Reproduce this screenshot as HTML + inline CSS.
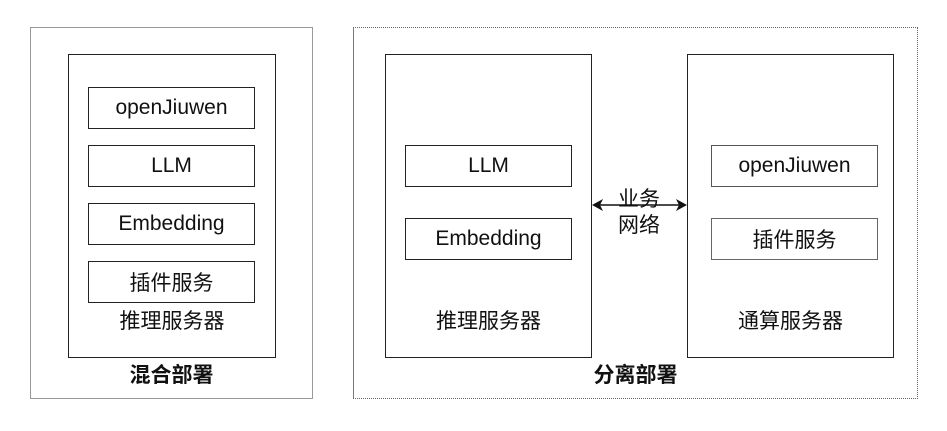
<!DOCTYPE html>
<html><head><meta charset="utf-8"><style>
body{margin:0;width:947px;height:431px;background:#fff;position:relative;overflow:hidden;font-family:"Liberation Sans","Noto Sans CJK SC",sans-serif;color:#111}
.b{position:absolute;box-sizing:border-box}
.s{border:1.5px solid #222;display:flex;align-items:center;justify-content:center;font-size:21px}
.c{font-size:21px}
.t{position:absolute;text-align:center;font-size:21px;line-height:26px}
</style></head><body>
<div class="b" style="left:30px;top:27px;width:283px;height:372px;border:1.5px solid #999"></div>
<div class="b" style="left:68px;top:54px;width:208px;height:304px;border:1.5px solid #222"></div>
<div class="b s" style="left:88px;top:87px;width:167px;height:42px">openJiuwen</div>
<div class="b s" style="left:88px;top:145px;width:167px;height:42px">LLM</div>
<div class="b s" style="left:88px;top:203px;width:167px;height:42px">Embedding</div>
<div class="b s" style="left:88px;top:261px;width:167px;height:42px">插件服务</div>
<div class="t" style="left:68px;width:208px;top:309px">推理服务器</div>
<div class="t" style="left:30px;width:283px;top:363px;font-weight:bold">混合部署</div>

<div class="b" style="left:353px;top:27px;width:565px;height:372px;border:1px dotted #666;border-left:1.5px solid #777"></div>
<div class="b" style="left:385px;top:54px;width:207px;height:304px;border:1.5px solid #222"></div>
<div class="b s" style="left:405px;top:145px;width:167px;height:42px">LLM</div>
<div class="b s" style="left:405px;top:218px;width:167px;height:42px">Embedding</div>
<div class="t" style="left:385px;width:207px;top:309px">推理服务器</div>
<div class="b" style="left:687px;top:54px;width:207px;height:304px;border:1.5px solid #222"></div>
<div class="b s" style="left:711px;top:145px;width:167px;height:42px;border-color:#555">openJiuwen</div>
<div class="b s" style="left:711px;top:218px;width:167px;height:42px;border-color:#666">插件服务</div>
<div class="t" style="left:687px;width:207px;top:309px">通算服务器</div>
<div class="t" style="left:353px;width:565px;top:363px;font-weight:bold">分离部署</div>
<div class="t" style="left:599px;width:80px;top:187px">业务<br>网络</div>
<svg class="b" style="left:0;top:0" width="947" height="431"><line x1="594" y1="205" x2="685" y2="205" stroke="#111" stroke-width="1.5"/><polygon points="592,205 603,199 600,205 603,211" fill="#111"/><polygon points="687,205 676,199 679,205 676,211" fill="#111"/></svg>
</body></html>
